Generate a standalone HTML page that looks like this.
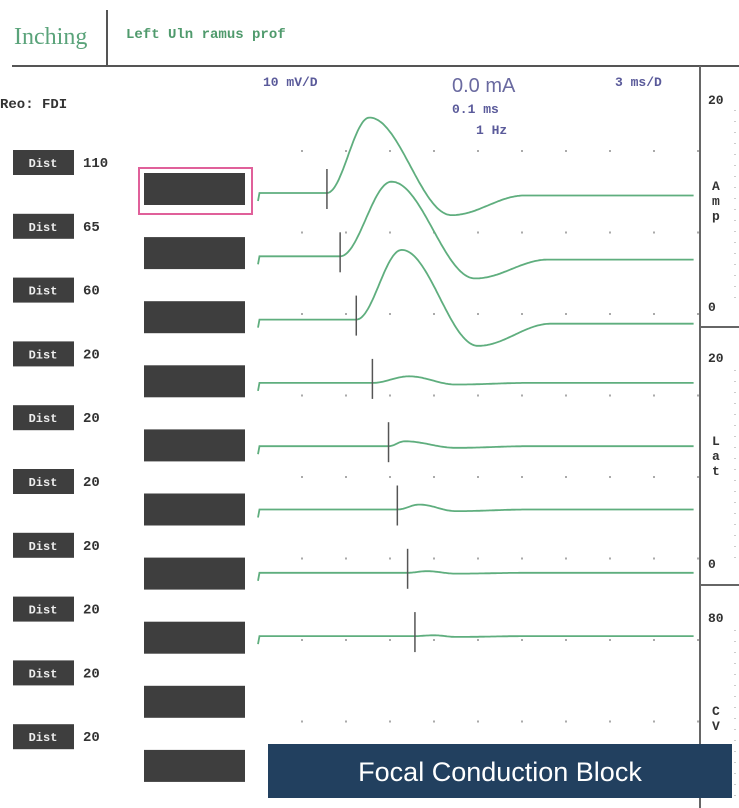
<!DOCTYPE html>
<html><head><meta charset="utf-8"><style>
body{margin:0;background:#fff;width:739px;height:808px;overflow:hidden;position:relative;font-family:"Liberation Mono",monospace}
svg{position:absolute;left:0;top:0}
</style></head><body>
<svg id="chart" width="739" height="808">
<text x="14" y="44" font-family="Liberation Serif, serif" font-size="24" fill="#5aa37a">Inching</text>
<line x1="107" y1="10" x2="107" y2="66" stroke="#555" stroke-width="2"/>
<text x="126" y="38" font-size="14" font-weight="bold" fill="#4f9a6c">Left Uln ramus prof</text>
<line x1="12" y1="66" x2="739" y2="66" stroke="#555" stroke-width="2"/>
<text x="0" y="108" font-size="14" font-weight="bold" fill="#333">Reo: FDI</text>
<text x="263" y="86" font-size="13" font-weight="bold" fill="#5a5a9a">10 mV/D</text>
<text x="452" y="92" font-family="Liberation Sans, sans-serif" font-size="20" fill="#6a6aa0">0.0 mA</text>
<text x="452" y="113" font-size="13" font-weight="bold" fill="#5a5a9a">0.1 ms</text>
<text x="476" y="134" font-size="13" font-weight="bold" fill="#5a5a9a">1 Hz</text>
<text x="615" y="86" font-size="13" font-weight="bold" fill="#5a5a9a">3 ms/D</text>
<line x1="700" y1="66" x2="700" y2="808" stroke="#666" stroke-width="2"/>
<line x1="700" y1="327" x2="739" y2="327" stroke="#666" stroke-width="2"/>
<line x1="700" y1="585" x2="739" y2="585" stroke="#666" stroke-width="2"/>
<g font-size="13" font-weight="bold" fill="#333">
<text x="708" y="104">20</text><text x="708" y="311">0</text>
<text x="708" y="362">20</text><text x="708" y="568">0</text>
<text x="708" y="622">80</text>
<text x="712" y="190">A</text><text x="712" y="205">m</text><text x="712" y="220">p</text>
<text x="712" y="445">L</text><text x="712" y="460">a</text><text x="712" y="475">t</text>
<text x="712" y="715">C</text><text x="712" y="730">V</text>
</g>
<line x1="735" y1="110" x2="735" y2="300" stroke="#999" stroke-dasharray="1 10"/>
<line x1="735" y1="370" x2="735" y2="560" stroke="#999" stroke-dasharray="1 10"/>
<line x1="735" y1="630" x2="735" y2="800" stroke="#999" stroke-dasharray="1 10"/>
<rect x="139" y="168" width="113" height="46" fill="none" stroke="#e0609a" stroke-width="2"/>
<g id="left"></g>
<g id="dots"></g>
<g id="traces"></g>
<rect x="268" y="744" width="464" height="54" fill="#22405f"/>
<text x="500" y="781" text-anchor="middle" font-family="Liberation Sans, sans-serif" font-size="27" fill="#fff">Focal Conduction Block</text>
</svg>
<script>
// data
const distances = [110, 65, 60, 20, 20, 20, 20, 20, 20, 20];
const onsetMs = [4.7, 5.6, 6.7, 7.8, 8.9, 9.5, 10.2, 10.7];
const peakMs = [7.6, 9.1, 9.8, 10.3, 10.0, 11.0, 11.5, 12];
const peakMv = [9.2, 9.1, 8.5, 0.8, 0.6, 0.6, 0.2, 0.1];
const troughMs = [13.2, 14.8, 15.0, 13.5, 13.5, 13.5, 13.5, 13.5];
const troughMv = [-2.7, -2.7, -3.2, -0.2, -0.2, -0.2, -0.1, -0.1];
const endMv = [-0.3, -0.4, -0.5, 0, 0, 0, 0, 0];
const NS = "http://www.w3.org/2000/svg";
const x0 = 258, pxPerMs = 44 / 3, pxPerMv = 8.2, rowTop = 193, rowStep = 63.3;
const xScale = t => x0 + t * pxPerMs;
const yScale = (row, mv) => rowTop + row * rowStep - mv * pxPerMv;
function mk(tag, attrs, parent) { const e = document.createElementNS(NS, tag); for (const k in attrs) e.setAttribute(k, attrs[k]); parent.appendChild(e); return e; }
const left = document.getElementById('left');
distances.forEach((d, i) => {
  const y = 150 + i * 63.8;
  const b = mk('rect', {x: 13, y: y, width: 61, height: 25, fill: '#3e3e3e'}, left);
  
  
  const t = mk('text', {x: 43, y: y + 17, 'text-anchor': 'middle', 'font-size': 12, 'font-weight': 'bold', fill: '#eee'}, left);
  t.textContent = 'Dist';
  
  
  const n = mk('text', {x: 83, y: y + 17, 'font-size': 14, 'font-weight': 'bold', fill: '#333'}, left);
  n.textContent = d;
  
  
  const r = mk('rect', {x: 144, y: 173 + i * 64.1, width: 101, height: 32, fill: '#3e3e3e'}, left);
  
  
});
const dots = document.getElementById('dots');
for (let r = 0; r < 8; r++) for (let c = 1; c <= 10; c++) {
  mk('rect', {x: xScale(c * 3) - 1, y: 150 + r * 81.5, width: 2, height: 2, fill: '#aaa'}, dots);
}
const traces = document.getElementById('traces');
function mvAt(i, t) {
  const o = onsetMs[i], p = peakMs[i], tr = troughMs[i];
  if (t < o) return 0;
  if (t < p) { const u = (t - o) / (p - o); return peakMv[i] * (0.5 - 0.5 * Math.cos(Math.PI * u)); }
  if (t < tr) { const u = (t - p) / (tr - p); return peakMv[i] + (troughMv[i] - peakMv[i]) * (0.5 - 0.5 * Math.cos(Math.PI * u)); }
  const u = Math.min(1, (t - tr) / 5); return troughMv[i] + (endMv[i] - troughMv[i]) * (0.5 - 0.5 * Math.cos(Math.PI * u));
}
onsetMs.forEach((o, i) => {
  let d = 'M' + xScale(0) + ' ' + (yScale(i, 0) + 8) + ' L' + xScale(0.1) + ' ' + yScale(i, 0);
  for (let t = 0.2; t <= 29.8; t += 0.1) d += ' L' + xScale(t).toFixed(1) + ' ' + yScale(i, mvAt(i, t)).toFixed(1);
  const p = mk('path', {d: d, fill: 'none', stroke: '#5fae7e', 'stroke-width': 1.8}, traces);
  
  
  const m = mk('line', {x1: xScale(o), x2: xScale(o), y1: yScale(i, 0) - 24, y2: yScale(i, 0) + 16, stroke: '#555', 'stroke-width': 1.5}, traces);
  
  
});
</script>
</body></html>
